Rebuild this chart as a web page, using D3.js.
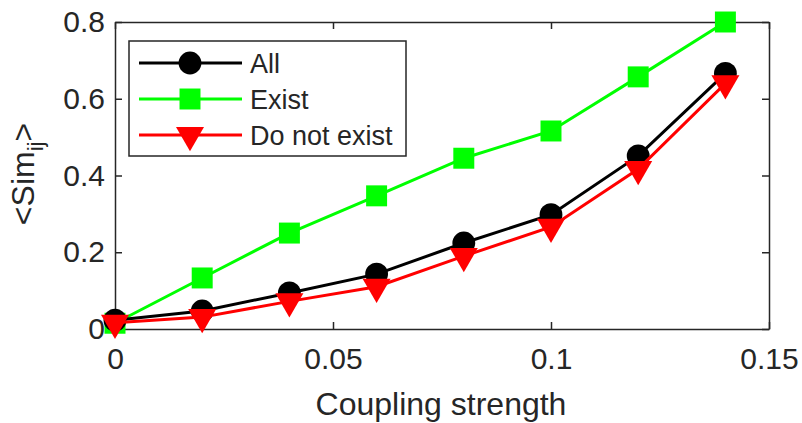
<!DOCTYPE html>
<html>
<head>
<meta charset="utf-8">
<script src="https://cdn.jsdelivr.net/npm/d3@7"></script>
<style>
  body { margin: 0; background: #fff; }
  text { font-family: "Liberation Sans", Arial, sans-serif; fill: #262626; }
</style>
</head>
<body>
<script>
// coupling strength values (x)
var coupling = [0, 0.02, 0.04, 0.06, 0.08, 0.1, 0.12, 0.14];
// mean similarity per group
var allVals   = [0.023, 0.047, 0.094, 0.143, 0.224, 0.298, 0.451, 0.666];
var existVals = [0.015, 0.133, 0.25, 0.347, 0.445, 0.516, 0.657, 0.8];
var notVals   = [0.016, 0.031, 0.072, 0.11, 0.19, 0.266, 0.417, 0.64];
var xTicks = [0, 0.05, 0.1, 0.15];
var yTicks = [0, 0.2, 0.4, 0.6, 0.8];
var xTickLabels = ["0", "0.05", "0.1", "0.15"];
var yTickLabels = ["0", "0.2", "0.4", "0.6", "0.8"];
var seriesNames = ["All", "Exist", "Do not exist"];

var svg_width = 802, svg_height = 423;
var margin = {top: 22, right: 33, bottom: 94, left: 115},
    width = svg_width - margin.left - margin.right,
    height = svg_height - margin.top - margin.bottom;

var svg = d3.select("body").append("svg")
    .attr("width", svg_width)
    .attr("height", svg_height);
var g = svg.append("g").attr("transform", "translate(" + margin.left + "," + margin.top + ")");

var x = d3.scaleLinear().domain([0, 0.15]).range([0, width]);
var y = d3.scaleLinear().domain([0, 0.8]).range([height, 0]);

var axisColor = "#262626";

// bottom axis, ticks point inward
var xa = g.append("g").attr("transform", "translate(0," + height + ")")
    .call(d3.axisBottom(x).tickValues(xTicks).tickSizeInner(-7).tickSizeOuter(0)
        .tickPadding(19).tickFormat(function(d, i) { return xTickLabels[i]; }));
var ya = g.append("g")
    .call(d3.axisLeft(y).tickValues(yTicks).tickSizeInner(-7).tickSizeOuter(0)
        .tickPadding(10).tickFormat(function(d, i) { return yTickLabels[i]; }));
// top and right ticks (box)
var xt = g.append("g")
    .call(d3.axisTop(x).tickValues(xTicks).tickSizeInner(-7).tickSizeOuter(0).tickFormat(""));
var yr = g.append("g").attr("transform", "translate(" + width + ",0)")
    .call(d3.axisRight(y).tickValues(yTicks).tickSizeInner(-7).tickSizeOuter(0).tickFormat(""));

[xa, ya, xt, yr].forEach(function(a) {
  a.selectAll("path").attr("stroke", axisColor).attr("stroke-width", 1.5);
  a.selectAll("line").attr("stroke", axisColor).attr("stroke-width", 1.5);
  a.selectAll("text").attr("font-size", 30).attr("fill", axisColor)
    .style("font-family", "'Liberation Sans', Arial, sans-serif");
});

// axis labels
svg.append("text")
    .attr("x", 441)
    .attr("y", 415)
    .attr("text-anchor", "middle")
    .attr("font-size", 32)
    .text("Coupling strength");

var yl = svg.append("text")
    .attr("transform", "translate(34,174) rotate(-90)")
    .attr("text-anchor", "middle")
    .attr("font-size", 32);
yl.append("tspan").text("<Sim");
yl.append("tspan").attr("font-size", 22).attr("dy", 9).text("ij");
yl.append("tspan").attr("dy", -9).text(">");

var line = d3.line()
    .x(function(d, i) { return x(coupling[i]); })
    .y(function(d) { return y(d); });

var series = [
  {name: seriesNames[0], values: allVals, color: "#000000", marker: d3.symbolCircle, size: 410, rot: 0},
  {name: seriesNames[1], values: existVals, color: "#00ff00", marker: d3.symbolSquare, size: 440, rot: 0},
  {name: seriesNames[2], values: notVals, color: "#ff0000", marker: d3.symbolTriangle, size: 340, rot: 180}
];

// drawing order: exist, all, do not exist (red on top)
[series[1], series[0], series[2]].forEach(function(s) {
  g.append("path")
      .datum(s.values)
      .attr("fill", "none")
      .attr("stroke", s.color)
      .attr("stroke-width", 3)
      .attr("d", line);
  g.selectAll(null)
      .data(s.values)
      .enter().append("path")
      .attr("d", d3.symbol().type(s.marker).size(s.size))
      .attr("fill", s.color)
      .attr("transform", function(d, i) {
        return "translate(" + x(coupling[i]) + "," + y(d) + ") rotate(" + s.rot + ")";
      });
});

// legend
var leg = svg.append("g").attr("transform", "translate(129,41)");
leg.append("rect")
    .attr("width", 277).attr("height", 115)
    .attr("fill", "#fff").attr("stroke", axisColor).attr("stroke-width", 1.5);
series.forEach(function(s, i) {
  var ry = 22 + i * 36;
  leg.append("line")
      .attr("x1", 10).attr("x2", 113).attr("y1", ry).attr("y2", ry)
      .attr("stroke", s.color).attr("stroke-width", 3);
  leg.append("path")
      .attr("d", d3.symbol().type(s.marker).size(s.size))
      .attr("fill", s.color)
      .attr("transform", "translate(61," + ry + ") rotate(" + s.rot + ")");
  leg.append("text")
      .attr("x", 121).attr("y", ry + 10)
      .attr("font-size", 27)
      .attr("fill", "#000")
      .text(s.name);
});
</script>
</body>
</html>
